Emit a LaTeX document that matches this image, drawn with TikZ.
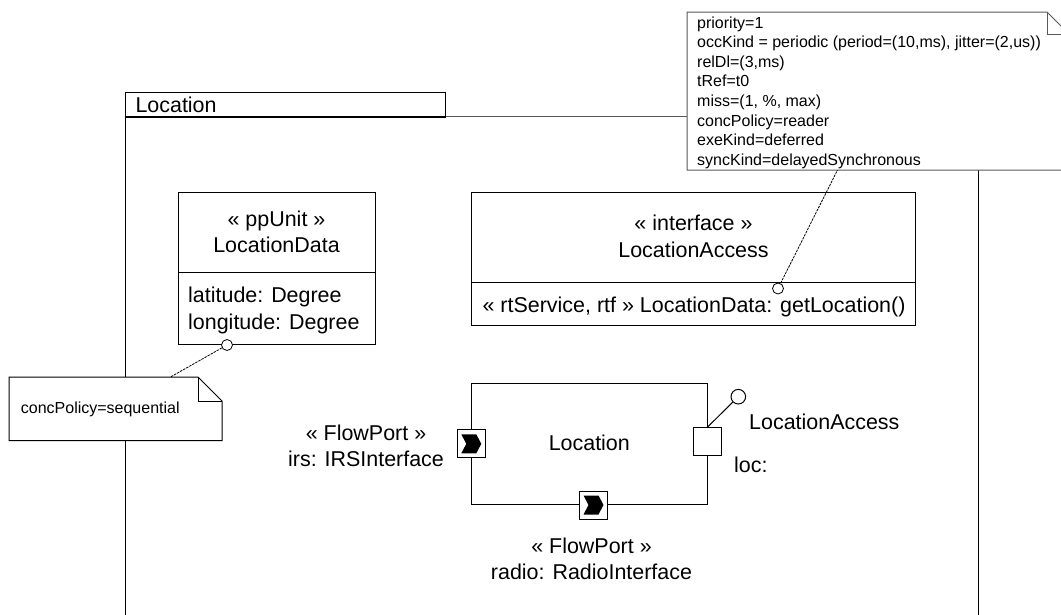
\documentclass[tikz,border=0pt]{standalone}
\usepackage{fontspec}
\setmainfont{Liberation Sans}
\begin{document}
\begin{tikzpicture}[x=1pt,y=-1pt,
  ln/.style={line width=1pt, draw=black},
  grayln/.style={line width=1pt, draw=black!65},
  bigtext/.style={font=\fontsize{21.45}{26.5}\selectfont, inner sep=0pt},
  notetext/.style={font=\fontsize{16}{19.6}\selectfont, inner sep=0pt},
  classbox/.style={draw, line width=1pt, fill=white, inner sep=0pt},
  port/.style={draw, line width=1pt, fill=white, minimum size=28pt, inner sep=0pt},
  flowmark/.style={fill=black},
  anchorline/.style={line width=0.8pt, dash pattern=on 2.5pt off 1pt},
  lollipop/.style={circle, draw, line width=1pt, fill=white, inner sep=0pt}
]
\useasboundingbox (0,0) rectangle (1061,614);
\clip (0,0) rectangle (1061,614);

% frame
\draw[ln] (125,620) -- (125,116);
\draw[grayln] (445,116) -- (687,116);
\draw[ln] (978,170) -- (978,620);
\node[draw, line width=1pt, anchor=north west, minimum width=320pt, minimum height=24pt,
      text width=300pt, inner xsep=10pt, inner ysep=0pt, align=left, bigtext, inner xsep=10pt] (tab) at (125,92) {Location};
\draw[line width=1.6pt] (tab.south west) -- (tab.south east);

% LocationData class
\node[classbox, minimum width=197.5pt, minimum height=152.5pt] (ld) at (276.75,268.25) {};
\draw[ln] (178,272) -- (375.5,272);
\node[bigtext, align=center] (ldname) at (276.5,232) {« ppUnit »\\LocationData};
\node[bigtext, align=left, anchor=west] (ldattr) at (188,310.5) {latitude: Degree\\longitude: Degree};

% LocationAccess interface
\node[classbox, minimum width=443.8pt, minimum height=133pt] (la) at (693.5,258.5) {};
\draw[ln] (471.6,282) -- (915.4,282);
\node[bigtext, align=center] (laname) at (693.5,236.5) {« interface »\\LocationAccess};
\node[bigtext, anchor=west] (laop) at (482.4,306.5) {« rtService, rtf » LocationData: getLocation()};

% part Location
\node[classbox, minimum width=235.8pt, minimum height=120.8pt] (part) at (589.4,443.9) {};
\node[bigtext] (partname) at (589.3,442.4) {Location};

% ports
\node[port] (irs) at (471.3,443.8) {};
\fill[flowmark] ([shift={(-10,-9.5)}]irs.center) -- ++(15,0) -- ++(5,9.5) -- ++(-5,9.5) -- ++(-15,0) -- ++(5,-9.5) -- cycle;
\node[port] (radio) at (593.5,505) {};
\fill[flowmark] ([shift={(-10,-9.5)}]radio.center) -- ++(15,0) -- ++(5,9.5) -- ++(-5,9.5) -- ++(-15,0) -- ++(5,-9.5) -- cycle;
\node[port] (loc) at (707.3,441.8) {};
\node[lollipop, minimum size=14.6pt] (lol) at (738.3,396.7) {};
\draw[ln] (loc.north) -- (lol);

% port labels
\node[bigtext, align=center] (irslbl) at (366,446) {« FlowPort »\\irs: IRSInterface};
\node[bigtext, align=center] (radiolbl) at (591.5,559) {« FlowPort »\\radio: RadioInterface};
\node[bigtext, anchor=west] (loclbl1) at (749,421.5) {LocationAccess};
\node[bigtext, anchor=west] (loclbl2) at (734,465) {loc:};

% big note
\draw[grayln, fill=white] (687,12) -- (1047,12) -- (1069,34) -- (1069,170) -- (687,170) -- cycle;
\draw[grayln] (1047,12) -- (1047,34) -- (1069,34);
\node[notetext, align=left, anchor=north west] (bignote) at (697,16.3) {priority=1\\occKind = periodic (period=(10,ms), jitter=(2,us))\\relDl=(3,ms)\\tRef=t0\\miss=(1, \%, max)\\concPolicy=reader\\exeKind=deferred\\syncKind=delayedSynchronous};
\coordinate (bignoteanchor) at (837.5,170);
\node[lollipop, line width=0.8pt, minimum size=11pt] (lacirc) at (778,288.5) {};
\draw[anchorline] (lacirc) -- (bignoteanchor);

% small note
\draw[ln, fill=white] (9,377) -- (198,377) -- (222,401) -- (222,440.5) -- (9,440.5) -- cycle;
\draw[ln] (198,377) -- (198,401) -- (222,401);
\node[notetext, anchor=west] (smallnote) at (20.7,409.5) {concPolicy=sequential};
\coordinate (smallnoteanchor) at (170.5,377);
\node[lollipop, line width=0.8pt, minimum size=11pt] (ldcirc) at (227,345) {};
\draw[anchorline] (ldcirc) -- (smallnoteanchor);
\end{tikzpicture}
\end{document}
